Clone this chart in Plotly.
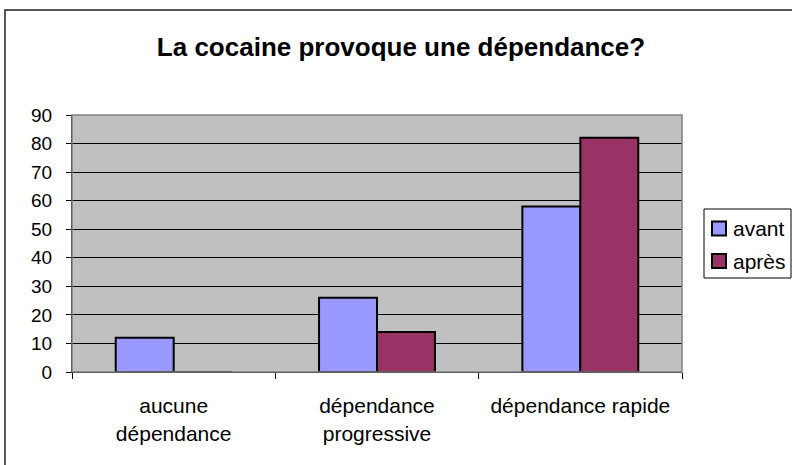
import plotly.graph_objects as go

categories = ["aucune<br>dépendance", "dépendance<br>progressive", "dépendance rapide"]
avant = [12, 26, 58]
apres = [0, 14, 82]
series_names = ["avant", "après"]
series_colors = ["#9999FF", "#993366"]
y_ticks = [0, 10, 20, 30, 40, 50, 60, 70, 80, 90]
title_text = "La cocaine provoque une dépendance?"

FONT = "Liberation Sans, Arial, sans-serif"
W, H = 792, 465
L, R, T, B = 72, 682, 115, 372

fig = go.Figure()
for name, vals, col in zip(series_names, [avant, apres], series_colors):
    fig.add_trace(go.Bar(x=categories, y=vals, name=name,
                         marker=dict(color=col, line=dict(color="black", width=2))))

def py(p):
    return (B - p) / (B - T)

def px(p):
    return (p - L) / (R - L)

shapes = [
    dict(type="rect", xref="paper", yref="paper", x0=0, x1=1, y0=0, y1=1,
         line=dict(color="#808080", width=1.5), layer="above"),
    dict(type="rect", xref="paper", yref="paper", x0=px(5), x1=px(800), y0=py(470), y1=py(10),
         line=dict(color="#222222", width=1.5), layer="above"),
    # legend box
    dict(type="rect", xref="paper", yref="paper", x0=px(704), x1=px(791), y0=py(278), y1=py(209),
         line=dict(color="black", width=1), fillcolor="white", layer="above"),
]
annotations = []
item_centers = [228.5, 261]
for name, col, cy in zip(series_names, series_colors, item_centers):
    shapes.append(dict(type="rect", xref="paper", yref="paper",
                       x0=px(712), x1=px(726), y0=py(cy + 7), y1=py(cy - 7),
                       line=dict(color="black", width=2), fillcolor=col, layer="above"))
    annotations.append(dict(text=name, xref="paper", yref="paper", x=px(731), y=py(cy),
                            xanchor="left", yanchor="middle", showarrow=False,
                            font=dict(family=FONT, size=21, color="black")))

fig.update_layout(
    width=W, height=H,
    margin=dict(l=L, r=W - R, t=T, b=H - B, pad=0, autoexpand=False),
    paper_bgcolor="white",
    plot_bgcolor="#C0C0C0",
    barmode="group",
    bargap=0.43,
    bargroupgap=0,
    font=dict(family=FONT, size=19, color="black"),
    title=dict(text="<b>" + title_text + "</b>", x=401 / W, xanchor="center",
               y=1 - 47 / H, yanchor="middle", yref="container",
               font=dict(family=FONT, size=26, color="black")),
    showlegend=False,
    xaxis=dict(type="category", showgrid=False, ticks="outside", tickson="boundaries",
               ticklen=6, tickcolor="black", showline=True, linecolor="black", linewidth=1,
               tickfont=dict(family=FONT, size=21, color="black"),
               ticklabelstandoff=15, fixedrange=True),
    yaxis=dict(range=[0, 90], tickvals=y_ticks, showgrid=True, gridcolor="black", gridwidth=1,
               ticks="outside", ticklen=5, tickcolor="black", showline=True,
               linecolor="black", linewidth=1, zeroline=False,
               tickfont=dict(family=FONT, size=19, color="black"),
               ticklabelstandoff=10, fixedrange=True),
    shapes=shapes,
    annotations=annotations,
)

fig.write_html("out.html")
